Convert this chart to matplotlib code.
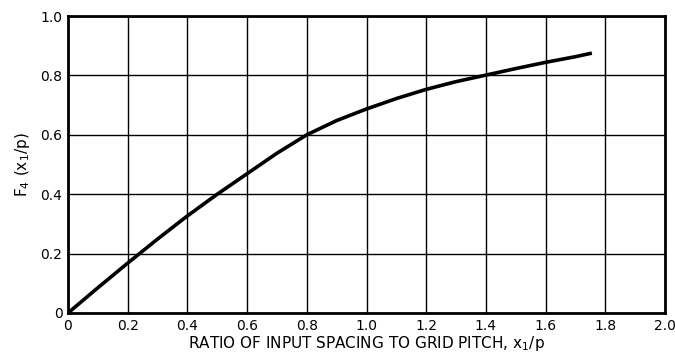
import matplotlib
matplotlib.use("Agg")
import matplotlib.pyplot as plt
import numpy as np

# data
x_vals = [0.0, 0.1, 0.2, 0.3, 0.4, 0.5, 0.6, 0.7, 0.8, 0.9, 1.0, 1.1, 1.2, 1.3, 1.4, 1.5, 1.6, 1.7, 1.755]
y_vals = [0.0, 0.085, 0.168, 0.249, 0.327, 0.400, 0.469, 0.538, 0.600, 0.648, 0.687, 0.722, 0.753, 0.779, 0.801, 0.823, 0.844, 0.863, 0.875]

x_ticks = [0, 0.2, 0.4, 0.6, 0.8, 1.0, 1.2, 1.4, 1.6, 1.8, 2.0]
x_tick_labels = ["0", "0.2", "0.4", "0.6", "0.8", "1.0", "1.2", "1.4", "1.6", "1.8", "2.0"]
y_ticks = [0, 0.2, 0.4, 0.6, 0.8, 1.0]
y_tick_labels = ["0", "0.2", "0.4", "0.6", "0.8", "1.0"]

plt.rcParams['font.family'] = ['DejaVu Sans']
plt.rcParams['mathtext.fontset'] = 'dejavusans'

fig = plt.figure(figsize=(6.75, 3.55), dpi=100)
ax = fig.add_axes([68/675, 1-313/355, (665-68)/675, (313-16)/355])

ax.plot(x_vals, y_vals, color='black', lw=2.6, solid_capstyle='butt', solid_joinstyle='round')
ax.set_xlim(0, 2.0)
ax.set_ylim(0, 1.0)
ax.set_xticks(x_ticks)
ax.set_xticklabels(x_tick_labels)
ax.set_yticks(y_ticks)
ax.set_yticklabels(y_tick_labels)
ax.tick_params(length=0, labelsize=10, pad=4)
ax.grid(True, color='black', lw=1.0)
ax.set_axisbelow(True)
for s in ax.spines.values():
    s.set_linewidth(2.0)

ax.set_xlabel(r"RATIO OF INPUT SPACING TO GRID PITCH, x$_1$/p", fontsize=11, labelpad=1)
ax.set_ylabel(r"F$_4$ (x$_1$/p)", fontsize=11, labelpad=6)

fig.savefig("out.png", dpi=100)
